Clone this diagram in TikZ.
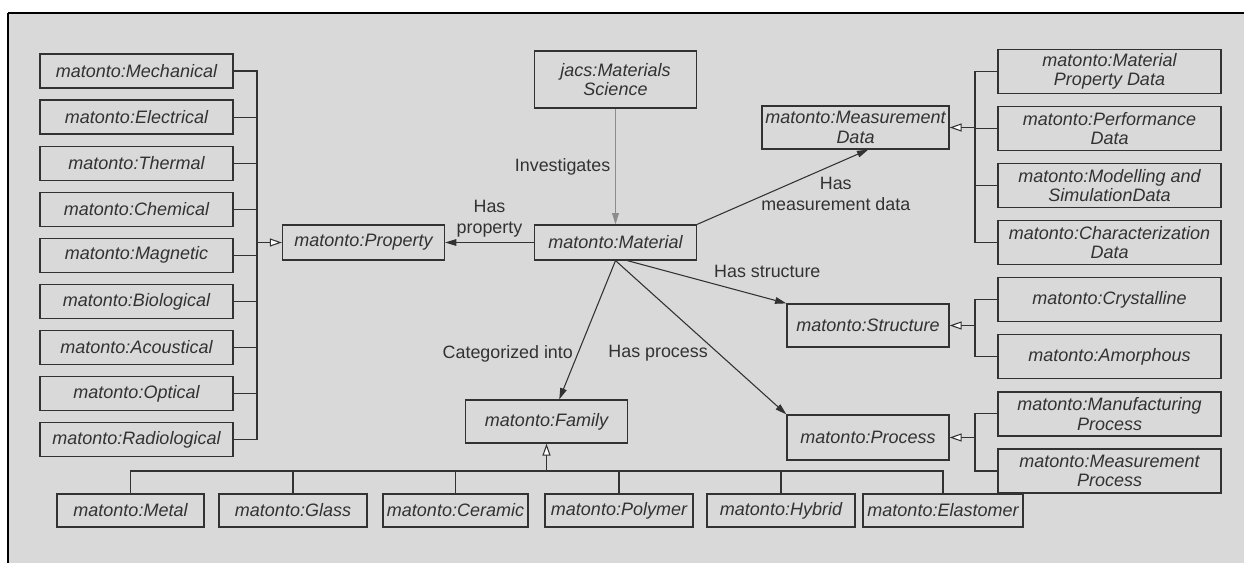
\documentclass[tikz,border=0pt]{standalone}
\usepackage{fontspec}
\setmainfont{Liberation Sans}
\usepackage{tikz}
\usetikzlibrary{
	positioning,
	arrows.meta
}
\definecolor{panelgray}{RGB}{217,217,217}
\definecolor{ink}{RGB}{50,50,50}

\begin{document}
\begin{tikzpicture}[
		x=0.75pt, y=-0.75pt,
		class/.style={draw=ink, line width=0.9pt, text=ink, inner sep=1pt, align=center,
			font=\fontsize{13.5}{14.5}\selectfont\itshape},
		propclass/.style={class, minimum width=144.75pt, minimum height=25.5pt},
		dataclass/.style={class, minimum width=167.25pt, minimum height=33pt},
		coreclass/.style={class, minimum width=121.5pt, minimum height=32.25pt},
		subclass/.style={class, minimum height=24.75pt},
		rel/.style={draw=ink, line width=0.8pt, -{Triangle[length=8.5pt,width=5pt]}},
		isa/.style={draw=ink, line width=0.8pt, -{Triangle[length=9pt,width=6pt,fill=white]}},
		bus/.style={draw=ink, line width=0.8pt},
		lbl/.style={text=ink, align=center, font=\fontsize{13.4}{15.75}\selectfont}
	]
	\useasboundingbox (0,0) rectangle (1244,563);
	\fill[white] (0,0) rectangle (1244,563);
	\fill[panelgray] (8,13) rectangle (1244,563);
	\draw[black, line width=1.8pt] (8,13) -- (1244,13);
	\draw[black, line width=1pt] (8,13) -- (8,563);

	\draw
		node[propclass]                     (mech)  at (136.5,71) {matonto:Mechanical}
		node[propclass,below=8.16pt of mech]  (elec)  {matonto:Electrical}
		node[propclass,below=8.16pt of elec]  (therm) {matonto:Thermal}
		node[propclass,below=8.16pt of therm] (chem)  {matonto:Chemical}
		node[propclass,below=8.16pt of chem]  (magn)  {matonto:Magnetic}
		node[propclass,below=8.16pt of magn]  (bio)   {matonto:Biological}
		node[propclass,below=8.16pt of bio]   (acou)  {matonto:Acoustical}
		node[propclass,below=8.16pt of acou]  (opt)   {matonto:Optical}
		node[propclass,below=8.16pt of opt]   (radio) {matonto:Radiological}

		node[dataclass]                       (mpd)    at (1109.5,71.5) {matonto:Material\\Property Data}
		node[dataclass,below=8.9pt of mpd]    (perf)   {matonto:Performance\\Data}
		node[dataclass,below=8.9pt of perf]   (model)  {matonto:Modelling and\\SimulationData}
		node[dataclass,below=8.9pt of model]  (charac) {matonto:Characterization\\Data}
		node[dataclass,below=8.9pt of charac] (cryst)  {matonto:Crystalline}
		node[dataclass,below=8.9pt of cryst]  (amor)   {matonto:Amorphous}
		node[dataclass,below=8.9pt of amor]   (manu)   {matonto:Manufacturing\\Process}
		node[dataclass,below=8.9pt of manu]   (mproc)  {matonto:Measurement\\Process}

		node[coreclass,minimum height=26.25pt]  (prop)  at (363.5,242.5) {matonto:Property}
		node[coreclass,minimum height=26.25pt]  (mat)   at (615.5,242.5) {matonto:Material}
		node[coreclass,minimum height=42.75pt]  (sci)   at (615.5,79.5)  {jacs:Materials\\Science}
		node[coreclass,minimum width=140.25pt]  (meas)  at (855.5,127.5) {matonto:Measurement\\Data}
		node[coreclass]                         (struc) at (868,325.5)   {matonto:Structure}
		node[coreclass,minimum height=33.75pt]  (proc)  at (868,437.5)   {matonto:Process}
		node[coreclass]                         (fam)   at (546.5,421.5) {matonto:Family}

		node[subclass,minimum width=110.25pt] (metal)  at (130.5,510.5) {matonto:Metal}
		node[subclass,minimum width=111pt]    (glass)  at (293,510.5)   {matonto:Glass}
		node[subclass,minimum width=108.75pt] (ceram)  at (455.5,510.5) {matonto:Ceramic}
		node[subclass,minimum width=111pt]    (poly)   at (619,510.5)   {matonto:Polymer}
		node[subclass,minimum width=111pt]    (hybrid) at (781,510.5)   {matonto:Hybrid}
		node[subclass,minimum width=120pt]    (elast)  at (943,510.5)   {matonto:Elastomer}
	;

	\coordinate (pbus) at (257,242.5);
	\coordinate (dbus) at (975,127.5);
	\coordinate (sbus) at (975,325.5);
	\coordinate (rbus) at (975,437.5);
	\coordinate (fbus) at (546.5,471);

	\draw[bus]
		(mech.east)  -| (pbus)
		(elec.east)  -| (pbus)
		(therm.east) -| (pbus)
		(chem.east)  -| (pbus)
		(magn.east)  -| (pbus)
		(bio.east)   -| (pbus)
		(acou.east)  -| (pbus)
		(opt.east)   -| (pbus)
		(radio.east) -| (pbus)
		(mpd.west)    -| (dbus)
		(perf.west)   -| (dbus)
		(model.west)  -| (dbus)
		(charac.west) -| (dbus)
		(cryst.west)  -| (sbus)
		(amor.west)   -| (sbus)
		(manu.west)   -| (rbus)
		(mproc.west)  -| (rbus)
		(metal.north)  |- (fbus)
		(glass.north)  |- (fbus)
		(ceram.north)  |- (fbus)
		(poly.north)   |- (fbus)
		(hybrid.north) |- (fbus)
		(elast.north)  |- (fbus)
	;

	\draw
		(pbus) edge[isa] (prop)
		(dbus) edge[isa] (meas)
		(sbus) edge[isa] (struc)
		(rbus) edge[isa] (proc)
		(fbus) edge[isa] (fam)

		(sci) edge[rel,draw=black!45,line width=1.2pt] node[lbl,left] {Investigates} (mat)
		(mat) edge[rel] node[lbl,above] {Has\\property} (prop)
		(mat.north east) edge[rel] node[lbl,pos=0.81,below=6.5pt] {Has\\measurement data} (meas.-60)
		(mat.-57) edge[rel] node[lbl,pos=0.88,above=12pt] {Has structure} (struc.north west)
		(mat.south) edge[rel] node[lbl,pos=0.6,left=4pt] {Has process} (proc.north west)
		(mat.south) edge[rel] node[lbl,pos=0.67,left] {Categorized into} (fam.60)
	;
\end{tikzpicture}
\end{document}
